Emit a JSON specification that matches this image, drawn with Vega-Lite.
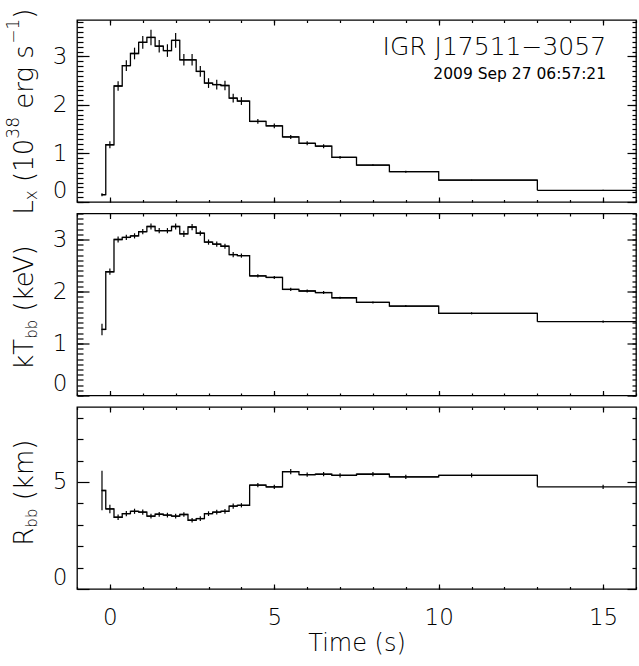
{
  "$schema": "https://vega.github.io/schema/vega-lite/v6.json",
  "padding": {"left": 4, "top": 7, "right": 2, "bottom": 5},
  "spacing": 11.5,
  "bounds": "flush",
  "config": {
    "view": {"stroke": "black", "strokeWidth": 1.3},
    "axis": {"domain": false, "grid": false, "tickColor": "black", "tickWidth": 1.2, "labelFont": "DejaVu Sans", "labelFontSize": 23, "labelFontWeight": 200, "labelColor": "black", "titleFont": "DejaVu Sans", "titleFontSize": 24, "titleFontWeight": 200, "titleColor": "black"},
    "text": {"font": "DejaVu Sans", "fontWeight": 200, "color": "black", "fill": "black"}
  },
  "data": {"values": [
    {"t0": -0.25, "t1": -0.125, "tm": -0.24, "lx": 0.15, "lxe": 0.03, "kt": 1.27, "kte": 0.11, "r": 4.6, "re": 0.92},
    {"t0": -0.125, "t1": 0.125, "tm": 0.0, "lx": 1.18, "lxe": 0.07, "kt": 2.38, "kte": 0.06, "r": 3.74, "re": 0.2},
    {"t0": 0.125, "t1": 0.375, "tm": 0.25, "lx": 2.39, "lxe": 0.1, "kt": 3.0, "kte": 0.06, "r": 3.35, "re": 0.13},
    {"t0": 0.375, "t1": 0.625, "tm": 0.5, "lx": 2.81, "lxe": 0.11, "kt": 3.04, "kte": 0.05, "r": 3.52, "re": 0.12},
    {"t0": 0.625, "t1": 0.875, "tm": 0.75, "lx": 3.06, "lxe": 0.12, "kt": 3.07, "kte": 0.05, "r": 3.63, "re": 0.12},
    {"t0": 0.875, "t1": 1.125, "tm": 1.0, "lx": 3.29, "lxe": 0.13, "kt": 3.15, "kte": 0.05, "r": 3.59, "re": 0.12},
    {"t0": 1.125, "t1": 1.375, "tm": 1.25, "lx": 3.39, "lxe": 0.16, "kt": 3.25, "kte": 0.06, "r": 3.4, "re": 0.11},
    {"t0": 1.375, "t1": 1.625, "tm": 1.5, "lx": 3.21, "lxe": 0.13, "kt": 3.17, "kte": 0.05, "r": 3.49, "re": 0.11},
    {"t0": 1.625, "t1": 1.875, "tm": 1.75, "lx": 3.12, "lxe": 0.13, "kt": 3.17, "kte": 0.05, "r": 3.45, "re": 0.11},
    {"t0": 1.875, "t1": 2.125, "tm": 2.0, "lx": 3.33, "lxe": 0.15, "kt": 3.25, "kte": 0.06, "r": 3.4, "re": 0.11},
    {"t0": 2.125, "t1": 2.375, "tm": 2.25, "lx": 2.93, "lxe": 0.12, "kt": 3.11, "kte": 0.06, "r": 3.48, "re": 0.11},
    {"t0": 2.375, "t1": 2.625, "tm": 2.5, "lx": 2.93, "lxe": 0.12, "kt": 3.24, "kte": 0.06, "r": 3.21, "re": 0.11},
    {"t0": 2.625, "t1": 2.875, "tm": 2.75, "lx": 2.69, "lxe": 0.11, "kt": 3.12, "kte": 0.05, "r": 3.29, "re": 0.11},
    {"t0": 2.875, "t1": 3.125, "tm": 3.0, "lx": 2.45, "lxe": 0.1, "kt": 2.95, "kte": 0.05, "r": 3.52, "re": 0.11},
    {"t0": 3.125, "t1": 3.375, "tm": 3.25, "lx": 2.42, "lxe": 0.1, "kt": 2.91, "kte": 0.05, "r": 3.59, "re": 0.11},
    {"t0": 3.375, "t1": 3.625, "tm": 3.5, "lx": 2.4, "lxe": 0.1, "kt": 2.87, "kte": 0.05, "r": 3.63, "re": 0.11},
    {"t0": 3.625, "t1": 3.875, "tm": 3.75, "lx": 2.14, "lxe": 0.09, "kt": 2.71, "kte": 0.05, "r": 3.87, "re": 0.12},
    {"t0": 3.875, "t1": 4.25, "tm": 4.0, "lx": 2.08, "lxe": 0.08, "kt": 2.69, "kte": 0.04, "r": 3.91, "re": 0.1},
    {"t0": 4.25, "t1": 4.75, "tm": 4.5, "lx": 1.66, "lxe": 0.05, "kt": 2.3, "kte": 0.03, "r": 4.85, "re": 0.1},
    {"t0": 4.75, "t1": 5.25, "tm": 5.0, "lx": 1.57, "lxe": 0.05, "kt": 2.27, "kte": 0.03, "r": 4.77, "re": 0.1},
    {"t0": 5.25, "t1": 5.75, "tm": 5.5, "lx": 1.34, "lxe": 0.04, "kt": 2.04, "kte": 0.03, "r": 5.48, "re": 0.12},
    {"t0": 5.75, "t1": 6.25, "tm": 6.0, "lx": 1.21, "lxe": 0.04, "kt": 2.01, "kte": 0.03, "r": 5.34, "re": 0.1},
    {"t0": 6.25, "t1": 6.75, "tm": 6.5, "lx": 1.15, "lxe": 0.04, "kt": 1.98, "kte": 0.03, "r": 5.36, "re": 0.1},
    {"t0": 6.75, "t1": 7.5, "tm": 7.0, "lx": 0.92, "lxe": 0.03, "kt": 1.88, "kte": 0.02, "r": 5.31, "re": 0.1},
    {"t0": 7.5, "t1": 8.5, "tm": 8.0, "lx": 0.76, "lxe": 0.02, "kt": 1.79, "kte": 0.02, "r": 5.36, "re": 0.1},
    {"t0": 8.5, "t1": 10, "tm": 9.0, "lx": 0.625, "lxe": 0.02, "kt": 1.72, "kte": 0.02, "r": 5.24, "re": 0.1},
    {"t0": 10, "t1": 13, "tm": 11.0, "lx": 0.45, "lxe": 0.01, "kt": 1.58, "kte": 0.02, "r": 5.31, "re": 0.1},
    {"t0": 13, "t1": 16, "tm": 15.0, "lx": 0.24, "lxe": 0.01, "kt": 1.42, "kte": 0.02, "r": 4.77, "re": 0.1}
  ]},
  "vconcat": [
    {
      "width": 559, "height": 182,
      "resolve": {"axis": {"x": "independent", "y": "independent"}},
      "layer": [
        {"mark": {"type": "rule", "strokeWidth": 1.3, "color": "black"},
         "encoding": {
           "x": {"field": "t0", "type": "quantitative", "scale": {"domain": [-1, 16], "nice": false, "zero": false}, "axis": {"orient": "bottom", "values": [0, 5, 10, 15], "tickSize": -5, "labels": false, "title": null}},
           "x2": {"field": "t1"},
           "y": {"field": "lx", "type": "quantitative", "scale": {"domain": [0, 3.75], "nice": false, "zero": false}, "axis": {"orient": "left", "values": [0, 1, 2, 3], "tickSize": -12, "labelPadding": 22, "labelFlush": true, "title": null}}
         }},
        {"mark": {"type": "line", "interpolate": "step-after", "strokeWidth": 1.3, "color": "black"},
         "encoding": {
           "x": {"field": "t0", "type": "quantitative", "axis": {"orient": "bottom", "values": [-1, 0, 1, 2, 3, 4, 5, 6, 7, 8, 9, 10, 11, 12, 13, 14, 15, 16], "tickSize": -2.5, "labels": false, "title": null}},
           "y": {"field": "lx", "type": "quantitative", "axis": {"orient": "left", "values": [0, 0.1, 0.2, 0.3, 0.4, 0.5, 0.6, 0.7, 0.8, 0.9, 1, 1.1, 1.2, 1.3, 1.4, 1.5, 1.6, 1.7, 1.8, 1.9, 2, 2.1, 2.2, 2.3, 2.4, 2.5, 2.6, 2.7, 2.8, 2.9, 3, 3.1, 3.2, 3.3, 3.4, 3.5, 3.6, 3.7], "tickSize": -6, "labels": false, "title": null}}
         }},
        {"mark": {"type": "errorbar", "ticks": false, "thickness": 1.2, "color": "black"},
         "encoding": {
           "x": {"field": "tm", "type": "quantitative", "axis": {"orient": "top", "values": [0, 5, 10, 15], "tickSize": -5, "labels": false, "title": null}},
           "y": {"field": "lx", "type": "quantitative", "axis": {"orient": "right", "values": [0, 1, 2, 3], "tickSize": -9, "labels": false, "title": null}},
           "yError": {"field": "lxe"}
         }},
        {"data": {"values": [{"s": "IGR J17511−3057"}]},
         "mark": {"type": "text", "align": "right", "baseline": "alphabetic", "fontSize": 25, "color": "black"},
         "encoding": {
           "x": {"datum": 15.09, "type": "quantitative", "axis": {"orient": "top", "values": [-1, 0, 1, 2, 3, 4, 5, 6, 7, 8, 9, 10, 11, 12, 13, 14, 15, 16], "tickSize": -2.5, "labels": false, "title": null}},
           "y": {"datum": 3.02, "type": "quantitative", "axis": {"orient": "right", "values": [0, 0.1, 0.2, 0.3, 0.4, 0.5, 0.6, 0.7, 0.8, 0.9, 1, 1.1, 1.2, 1.3, 1.4, 1.5, 1.6, 1.7, 1.8, 1.9, 2, 2.1, 2.2, 2.3, 2.4, 2.5, 2.6, 2.7, 2.8, 2.9, 3, 3.1, 3.2, 3.3, 3.4, 3.5, 3.6, 3.7], "tickSize": -4, "labels": false, "title": null}},
           "text": {"field": "s"}
         }},
        {"data": {"values": [{"s": "2009 Sep 27 06:57:21"}]},
         "mark": {"type": "text", "align": "right", "baseline": "alphabetic", "fontSize": 15.5, "fontWeight": 400, "color": "black"},
         "encoding": {"x": {"datum": 15.09, "type": "quantitative", "axis": null}, "y": {"datum": 2.54, "type": "quantitative", "axis": null}, "text": {"field": "s"}}},
        {"data": {"values": [{"s": "L"}]},
         "mark": {"type": "text", "angle": 270, "align": "left", "baseline": "alphabetic", "fontSize": 26, "color": "black"},
         "encoding": {"x": {"datum": -2.347, "type": "quantitative", "axis": null}, "y": {"datum": -0.2617, "type": "quantitative", "axis": null}, "text": {"field": "s"}}},
        {"data": {"values": [{"s": "x"}]},
         "mark": {"type": "text", "angle": 270, "align": "left", "baseline": "alphabetic", "fontSize": 17, "dy": 4, "color": "black"},
         "encoding": {"x": {"datum": -2.347, "type": "quantitative", "axis": null}, "y": {"datum": 0.0367, "type": "quantitative", "axis": null}, "text": {"field": "s"}}},
        {"data": {"values": [{"s": "(10"}]},
         "mark": {"type": "text", "angle": 270, "align": "left", "baseline": "alphabetic", "fontSize": 26, "color": "black"},
         "encoding": {"x": {"datum": -2.347, "type": "quantitative", "axis": null}, "y": {"datum": 0.4144, "type": "quantitative", "axis": null}, "text": {"field": "s"}}},
        {"data": {"values": [{"s": "38"}]},
         "mark": {"type": "text", "angle": 270, "align": "left", "baseline": "alphabetic", "fontSize": 17, "dy": -14, "color": "black"},
         "encoding": {"x": {"datum": -2.347, "type": "quantitative", "axis": null}, "y": {"datum": 1.3047, "type": "quantitative", "axis": null}, "text": {"field": "s"}}},
        {"data": {"values": [{"s": "erg s"}]},
         "mark": {"type": "text", "angle": 270, "align": "left", "baseline": "alphabetic", "fontSize": 26, "color": "black"},
         "encoding": {"x": {"datum": -2.347, "type": "quantitative", "axis": null}, "y": {"datum": 1.9205, "type": "quantitative", "axis": null}, "text": {"field": "s"}}},
        {"data": {"values": [{"s": "−1"}]},
         "mark": {"type": "text", "angle": 270, "align": "left", "baseline": "alphabetic", "fontSize": 17, "dy": -14, "color": "black"},
         "encoding": {"x": {"datum": -2.347, "type": "quantitative", "axis": null}, "y": {"datum": 3.2598, "type": "quantitative", "axis": null}, "text": {"field": "s"}}},
        {"data": {"values": [{"s": ")"}]},
         "mark": {"type": "text", "angle": 270, "align": "left", "baseline": "alphabetic", "fontSize": 26, "color": "black"},
         "encoding": {"x": {"datum": -2.347, "type": "quantitative", "axis": null}, "y": {"datum": 3.7762, "type": "quantitative", "axis": null}, "text": {"field": "s"}}}
      ]
    },
    {
      "width": 559, "height": 182,
      "resolve": {"axis": {"x": "independent", "y": "independent"}},
      "layer": [
        {"mark": {"type": "rule", "strokeWidth": 1.3, "color": "black"},
         "encoding": {
           "x": {"field": "t0", "type": "quantitative", "scale": {"domain": [-1, 16], "nice": false, "zero": false}, "axis": {"orient": "bottom", "values": [0, 5, 10, 15], "tickSize": -5, "labels": false, "title": null}},
           "x2": {"field": "t1"},
           "y": {"field": "kt", "type": "quantitative", "scale": {"domain": [0, 3.5], "nice": false, "zero": false}, "axis": {"orient": "left", "values": [0, 1, 2, 3], "tickSize": -12, "labelPadding": 22, "labelFlush": true, "title": null}}
         }},
        {"mark": {"type": "line", "interpolate": "step-after", "strokeWidth": 1.3, "color": "black"},
         "encoding": {
           "x": {"field": "t0", "type": "quantitative", "axis": {"orient": "bottom", "values": [-1, 0, 1, 2, 3, 4, 5, 6, 7, 8, 9, 10, 11, 12, 13, 14, 15, 16], "tickSize": -2.5, "labels": false, "title": null}},
           "y": {"field": "kt", "type": "quantitative", "axis": {"orient": "left", "values": [0, 0.1, 0.2, 0.3, 0.4, 0.5, 0.6, 0.7, 0.8, 0.9, 1, 1.1, 1.2, 1.3, 1.4, 1.5, 1.6, 1.7, 1.8, 1.9, 2, 2.1, 2.2, 2.3, 2.4, 2.5, 2.6, 2.7, 2.8, 2.9, 3, 3.1, 3.2, 3.3, 3.4, 3.5], "tickSize": -6, "labels": false, "title": null}}
         }},
        {"mark": {"type": "errorbar", "ticks": false, "thickness": 1.2, "color": "black"},
         "encoding": {
           "x": {"field": "tm", "type": "quantitative", "axis": {"orient": "top", "values": [0, 5, 10, 15], "tickSize": -5, "labels": false, "title": null}},
           "y": {"field": "kt", "type": "quantitative", "axis": {"orient": "right", "values": [0, 1, 2, 3], "tickSize": -9, "labels": false, "title": null}},
           "yError": {"field": "kte"}
         }},
        {"data": {"values": [{"s": "kT"}]},
         "mark": {"type": "text", "angle": 270, "align": "left", "baseline": "alphabetic", "fontSize": 26, "color": "black"},
         "encoding": {
           "x": {"datum": -2.347, "type": "quantitative", "axis": {"orient": "top", "values": [-1, 0, 1, 2, 3, 4, 5, 6, 7, 8, 9, 10, 11, 12, 13, 14, 15, 16], "tickSize": -2.5, "labels": false, "title": null}},
           "y": {"datum": 0.4952, "type": "quantitative", "axis": {"orient": "right", "values": [0, 0.1, 0.2, 0.3, 0.4, 0.5, 0.6, 0.7, 0.8, 0.9, 1, 1.1, 1.2, 1.3, 1.4, 1.5, 1.6, 1.7, 1.8, 1.9, 2, 2.1, 2.2, 2.3, 2.4, 2.5, 2.6, 2.7, 2.8, 2.9, 3, 3.1, 3.2, 3.3, 3.4, 3.5], "tickSize": -4, "labels": false, "title": null}},
           "text": {"field": "s"}
         }},
        {"data": {"values": [{"s": "bb"}]},
         "mark": {"type": "text", "angle": 270, "align": "left", "baseline": "alphabetic", "fontSize": 15, "dy": 4, "color": "black"},
         "encoding": {"x": {"datum": -2.347, "type": "quantitative", "axis": null}, "y": {"datum": 1.0902, "type": "quantitative", "axis": null}, "text": {"field": "s"}}},
        {"data": {"values": [{"s": "(keV)"}]},
         "mark": {"type": "text", "angle": 270, "align": "left", "baseline": "alphabetic", "fontSize": 26, "color": "black"},
         "encoding": {"x": {"datum": -2.347, "type": "quantitative", "axis": null}, "y": {"datum": 1.6156, "type": "quantitative", "axis": null}, "text": {"field": "s"}}}
      ]
    },
    {
      "width": 559, "height": 182,
      "resolve": {"axis": {"x": "independent", "y": "independent"}},
      "layer": [
        {"mark": {"type": "rule", "strokeWidth": 1.3, "color": "black"},
         "encoding": {
           "x": {"field": "t0", "type": "quantitative", "scale": {"domain": [-1, 16], "nice": false, "zero": false}, "axis": {"orient": "bottom", "values": [0, 5, 10, 15], "tickSize": -5, "labels": true, "labelPadding": 22, "labelFlush": false, "title": "Time (s)", "titlePadding": 2}},
           "x2": {"field": "t1"},
           "y": {"field": "r", "type": "quantitative", "scale": {"domain": [0, 8.5], "nice": false, "zero": false}, "axis": {"orient": "left", "values": [0, 5], "tickSize": -12, "labelPadding": 22, "labelFlush": true, "title": null}}
         }},
        {"mark": {"type": "line", "interpolate": "step-after", "strokeWidth": 1.3, "color": "black"},
         "encoding": {
           "x": {"field": "t0", "type": "quantitative", "axis": {"orient": "bottom", "values": [-1, 0, 1, 2, 3, 4, 5, 6, 7, 8, 9, 10, 11, 12, 13, 14, 15, 16], "tickSize": -2.5, "labels": false, "title": null}},
           "y": {"field": "r", "type": "quantitative", "axis": {"orient": "left", "values": [1, 2, 3, 4, 6, 7, 8], "tickSize": -6, "labels": false, "title": null}}
         }},
        {"mark": {"type": "errorbar", "ticks": false, "thickness": 1.2, "color": "black"},
         "encoding": {
           "x": {"field": "tm", "type": "quantitative", "axis": {"orient": "top", "values": [0, 5, 10, 15], "tickSize": -5, "labels": false, "title": null}},
           "y": {"field": "r", "type": "quantitative", "axis": {"orient": "right", "values": [0, 5], "tickSize": -9, "labels": false, "title": null}},
           "yError": {"field": "re"}
         }},
        {"data": {"values": [{"s": "R"}]},
         "mark": {"type": "text", "angle": 270, "align": "left", "baseline": "alphabetic", "fontSize": 26, "color": "black"},
         "encoding": {
           "x": {"datum": -2.347, "type": "quantitative", "axis": {"orient": "top", "values": [-1, 0, 1, 2, 3, 4, 5, 6, 7, 8, 9, 10, 11, 12, 13, 14, 15, 16], "tickSize": -2.5, "labels": false, "title": null}},
           "y": {"datum": 2.0222, "type": "quantitative", "axis": {"orient": "right", "values": [1, 2, 3, 4, 6, 7, 8], "tickSize": -4, "labels": false, "title": null}},
           "text": {"field": "s"}
         }},
        {"data": {"values": [{"s": "bb"}]},
         "mark": {"type": "text", "angle": 270, "align": "left", "baseline": "alphabetic", "fontSize": 15, "dy": 4, "color": "black"},
         "encoding": {"x": {"datum": -2.347, "type": "quantitative", "axis": null}, "y": {"datum": 2.8662, "type": "quantitative", "axis": null}, "text": {"field": "s"}}},
        {"data": {"values": [{"s": "(km)"}]},
         "mark": {"type": "text", "angle": 270, "align": "left", "baseline": "alphabetic", "fontSize": 26, "color": "black"},
         "encoding": {"x": {"datum": -2.347, "type": "quantitative", "axis": null}, "y": {"datum": 4.1421, "type": "quantitative", "axis": null}, "text": {"field": "s"}}}
      ]
    }
  ]
}
